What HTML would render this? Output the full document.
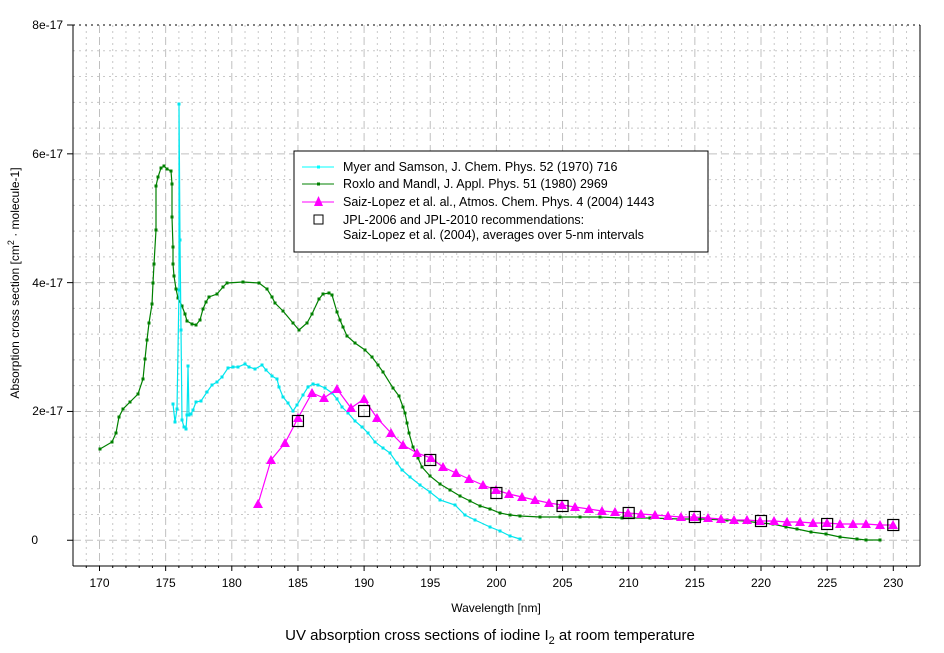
<!DOCTYPE html>
<html><head><meta charset="utf-8"><style>
html,body{margin:0;padding:0;background:#fff;}
svg{display:block;font-family:"Liberation Sans",Arial,sans-serif;}
</style></head><body>
<svg id="s" width="944" height="653" viewBox="0 0 944 653" xmlns="http://www.w3.org/2000/svg">
<rect width="944" height="653" fill="#fff"/>
<g id="grid"></g>
<line x1="73" y1="25" x2="920" y2="25" stroke="#000" stroke-dasharray="2,4"/>
<line x1="73" y1="25" x2="73" y2="566" stroke="#000"/>
<line x1="73" y1="566" x2="920" y2="566" stroke="#000"/>
<line x1="920" y1="25" x2="920" y2="566" stroke="#000"/>
<g id="ticks" stroke="#000"></g>
<g font-size="12" fill="#000" text-anchor="end">
<text x="63" y="29">8e-17</text>
<text x="63" y="158">6e-17</text>
<text x="63" y="287">4e-17</text>
<text x="63" y="415">2e-17</text>
<text x="38" y="544">0</text>
</g>
<g id="xl" font-size="12" fill="#000" text-anchor="middle"></g>
<text x="496" y="612" font-size="12" text-anchor="middle">Wavelength [nm]</text>
<text transform="translate(19,283) rotate(-90)" font-size="12" text-anchor="middle">Absorption cross section [cm<tspan dy="-5" font-size="9">2</tspan><tspan dy="5"> · molecule-1]</tspan></text>
<text x="490" y="640" font-size="15" text-anchor="middle">UV absorption cross sections of iodine I<tspan dy="4" font-size="11">2</tspan><tspan dy="-4"> at room temperature</tspan></text>
<g id="data"></g>
<rect x="294" y="151" width="414" height="101" fill="#fff" stroke="#000"/>
<line x1="302" y1="167" x2="334" y2="167" stroke="#00ffff"/><rect x="317" y="165.5" width="3" height="3" fill="#00ffff"/>
<line x1="302" y1="184" x2="334" y2="184" stroke="#008000"/><rect x="317" y="182.5" width="3" height="3" fill="#008000"/>
<line x1="302" y1="202" x2="334" y2="202" stroke="#ff00ff"/><polygon points="318.5,196 314,206 323,206" fill="#ff00ff"/>
<rect x="314" y="215" width="9" height="9" fill="none" stroke="#000"/>
<g font-size="12.5" fill="#000">
<text x="343" y="171">Myer and Samson, J. Chem. Phys. 52 (1970) 716</text>
<text x="343" y="188">Roxlo and Mandl, J. Appl. Phys. 51 (1980) 2969</text>
<text x="343" y="206">Saiz-Lopez et al. al., Atmos. Chem. Phys. 4 (2004) 1443</text>
<text x="343" y="224">JPL-2006 and JPL-2010 recommendations:</text>
<text x="343" y="239">Saiz-Lopez et al. (2004), averages over 5-nm intervals</text>
</g>
</svg>
<script>
var NS="http://www.w3.org/2000/svg";
function el(p,t,a){var e=document.createElementNS(NS,t);for(var k in a)e.setAttribute(k,a[k]);p.appendChild(e);return e;}
var g=document.getElementById('grid'),tk=document.getElementById('ticks'),xl=document.getElementById('xl');
function X(nm){return 99.5+(nm-170)*13.23;}
for(var nm=169;nm<=231;nm++){var x=X(nm);var maj=(nm%5==0);
 el(g,'line',{x1:x,y1:25,x2:x,y2:566,stroke:maj?'#c0c0c0':'#c8c8c8','stroke-dasharray':maj?'8,4':'2,4'});
 if(maj){el(tk,'line',{x1:x,y1:566,x2:x,y2:571});var t=el(xl,'text',{x:x,y:587});t.textContent=nm;}
 else el(tk,'line',{x1:x,y1:566,x2:x,y2:568});}
for(var i=0;i<=20;i++){var y=566-i*25.76;if(y<25)break;var maj=((i-1)%5==0);
 if(y>26)el(g,'line',{x1:73,y1:y,x2:920,y2:y,stroke:maj?'#c0c0c0':'#c8c8c8','stroke-dasharray':maj?'8,4':'2,4'});
 if(maj)el(tk,'line',{x1:67,y1:y,x2:73,y2:y});}
el(tk,'line',{x1:67,y1:25,x2:73,y2:25});
var d=document.getElementById('data');
function line(pts,col,mk){el(d,'polyline',{points:pts.map(function(p){return p.join(',')}).join(' '),fill:'none',stroke:col,'stroke-width':1.2});
 pts.forEach(function(p){el(d,'rect',{x:p[0]-1.5,y:p[1]-1.5,width:3,height:3,fill:col});});}
var green=[[100,449],[112,442],[116,433],[119,417],[123,409],[130,402],[138,394],[143,379],[145,359],[147,340],[149,323],[152,304],[153,283],[154,264],[156,230],[156,186],[158,177],[161,168],[164,166],[167,169],[171,171],[172,184],[172,217],[173,247],[173,264],[174,276],[176,289],[178,298],[182,306],[185,314],[187,321],[192,324],[196,325],[200,320],[203,309],[206,302],[209,297],[217,294],[223,287],[227,283],[243,282],[259,283],[267,289],[272,297],[275,303],[283,311],[293,323],[299,330],[307,323],[312,314],[319,299],[323,294],[329,293],[332,295],[337,312],[340,320],[343,327],[347,336],[355,343],[365,350],[372,357],[378,365],[383,372],[393,388],[399,396],[403,407],[405,413],[407,423],[409,433],[413,447],[418,458],[422,467],[430,476],[440,484],[450,490],[460,496],[470,501],[480,506],[490,509],[500,513],[510,515],[520,516],[540,517],[560,517],[580,517],[600,517],[622,518],[650,518],[680,519],[700,519],[727,520],[745,521],[760,523],[773,524],[786,527],[797,529],[811,532],[826,534],[840,537],[857,539],[866,540],[880,540]];
var cyan=[[173,404],[175,422],[177,409],[179,290],[179,104],[180,240],[181,330],[182,420],[184,427],[186,429],[187,415],[188,366],[189,415],[191,414],[193,410],[196,402],[201,401],[207,392],[212,385],[217,382],[222,377],[228,368],[233,367],[238,367],[245,364],[249,367],[255,369],[262,365],[266,370],[272,376],[277,379],[279,387],[283,397],[288,403],[293,411],[297,405],[303,395],[308,387],[313,384],[318,385],[325,388],[332,393],[337,399],[342,407],[348,413],[355,421],[362,427],[368,433],[375,442],[383,448],[390,453],[397,463],[402,470],[410,477],[420,485],[430,492],[440,500],[455,505],[465,515],[475,520],[490,527],[500,531],[510,536],[520,539]];
line(green,'#008000');line(cyan,'#00e5ee');
var mag=[[258,504],[271,460],[285,443],[298,418],[312,393],[324,398],[337,389],[351,408],[364,399],[377,418],[391,433],[403,445],[417,453],[431,458],[443,467],[456,473],[469,479],[483,485],[496,490],[509,494],[522,497],[535,500],[549,503],[562,505],[575,507],[589,509],[602,511],[615,512],[628,513],[641,514],[655,515],[668,516],[681,517],[694,517],[708,518],[721,519],[734,520],[747,520],[760,521],[774,521],[787,522],[800,522],[813,523],[827,523],[840,524],[853,524],[866,524],[880,525],[893,525]];
el(d,'polyline',{points:mag.map(function(p){return p.join(',')}).join(' '),fill:'none',stroke:'#ff00ff','stroke-width':1.2});
mag.forEach(function(p){el(d,'polygon',{points:(p[0])+','+(p[1]-5)+' '+(p[0]-5)+','+(p[1]+4)+' '+(p[0]+5)+','+(p[1]+4),fill:'#ff00ff'});});
[[185,421],[190,411],[195,460],[200,493],[205,506],[210,513],[215,517],[220,521],[225,524],[230,525]].forEach(function(p){
 el(d,'rect',{x:X(p[0])-5.5,y:p[1]-5.5,width:11,height:11,fill:'none',stroke:'#000','stroke-width':1.2});});
</script>
</body></html>
